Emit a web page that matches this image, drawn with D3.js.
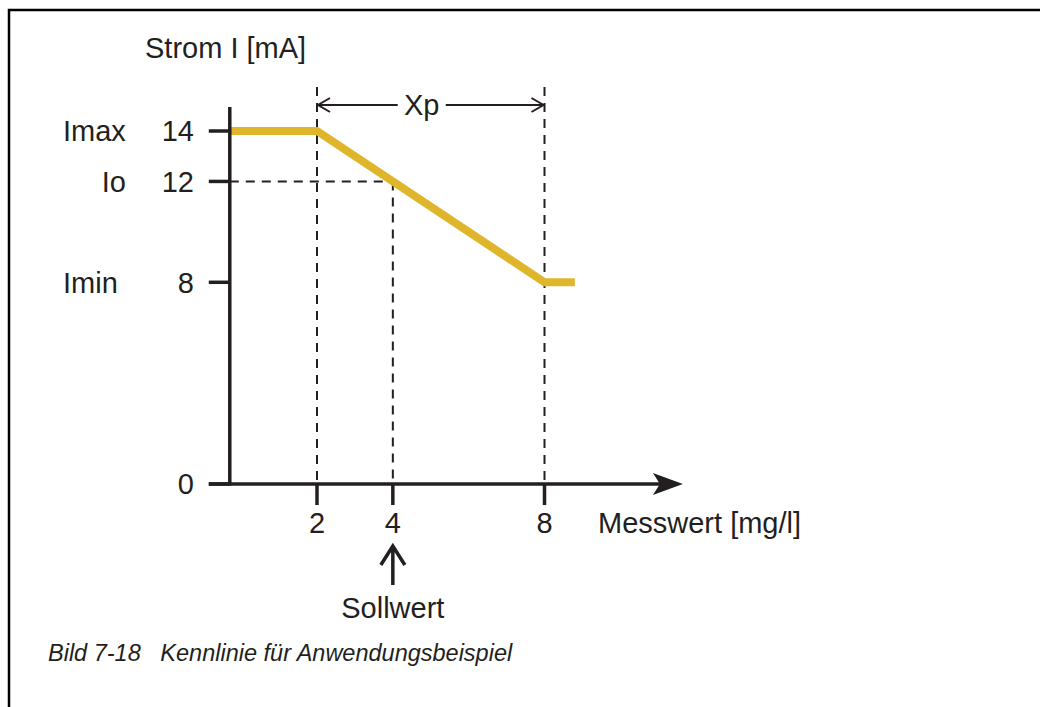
<!DOCTYPE html>
<html>
<head>
<meta charset="utf-8">
<script src="https://cdn.jsdelivr.net/npm/d3@7"></script>
<style>
  html, body { margin: 0; padding: 0; background: #fff; }
  svg { display: block; }
  text { font-family: "Liberation Sans", Arial, Helvetica, sans-serif; fill: #231f20; }
</style>
</head>
<body>
<svg id="chart" width="1040" height="707"></svg>
<script>
// Kennlinie: Strom über Messwert
const yTicks = [0, 8, 12, 14];
const yNames = { 14: "Imax", 12: "Io", 8: "Imin" };
const xTicks = [2, 4, 8];
const curveX = [-0.3, 2, 8, 8.8];
const curveY = [14, 14, 8, 8];
const setpointX = 4;
const setpointY = 12;
const xpRange = [2, 8];
const axisOriginX = -0.3;
const axisEndX = 11.65;

const ink = "#231f20";
const gold = "#dfb62b";
const fs = 29;

const svg = d3.select("#chart");

const x = d3.scaleLinear().domain([2, 8]).range([317, 544.5]);
const y = d3.scaleLinear().domain([0, 14]).range([484, 131]);

// outer frame
svg.append("rect")
  .attr("x", 9).attr("y", 10)
  .attr("width", 1060).attr("height", 720)
  .attr("fill", "none").attr("stroke", "#000").attr("stroke-width", 2.5);

// axis title
svg.append("text").attr("x", 145).attr("y", 58)
  .attr("font-size", fs).text("Strom I [mA]");

// dashed guide lines
const dash = "9,7";
const guides = svg.append("g").attr("stroke", ink).attr("stroke-width", 2)
  .attr("stroke-dasharray", dash).attr("fill", "none");
xpRange.forEach(v => {
  guides.append("line").attr("x1", x(v)).attr("x2", x(v))
    .attr("y1", 87).attr("y2", y(0));
});
guides.append("line").attr("x1", x(setpointX)).attr("x2", x(setpointX))
  .attr("y1", y(setpointY)).attr("y2", y(0));
guides.append("line").attr("x1", x(axisOriginX)).attr("x2", x(setpointX))
  .attr("y1", y(setpointY)).attr("y2", y(setpointY));

// characteristic curve
const pts = curveX.map((v, i) => [v, curveY[i]]);
svg.append("path")
  .datum(pts)
  .attr("d", d3.line().x(d => x(d[0])).y(d => y(d[1])))
  .attr("fill", "none").attr("stroke", gold).attr("stroke-width", 8)
  .attr("stroke-linejoin", "miter");

// y axis
const x0 = x(axisOriginX);
svg.append("line").attr("x1", x0).attr("x2", x0)
  .attr("y1", 107).attr("y2", y(0) + 1.5)
  .attr("stroke", ink).attr("stroke-width", 3.5);

const yt = svg.append("g");
yTicks.forEach(v => {
  yt.append("line").attr("x1", x0 - 21).attr("x2", x0)
    .attr("y1", y(v)).attr("y2", y(v))
    .attr("stroke", ink).attr("stroke-width", 3.5);
  yt.append("text").attr("x", 194).attr("y", y(v)).attr("dy", "0.36em")
    .attr("text-anchor", "end").attr("font-size", fs).text(v);
  if (yNames[v]) {
    const t = yt.append("text").attr("y", y(v)).attr("dy", "0.36em")
      .attr("font-size", fs).text(yNames[v]);
    if (v === 12) t.attr("x", 126).attr("text-anchor", "end");
    else t.attr("x", 63);
  }
});

// x axis with arrow
const xEnd = x(axisEndX);
svg.append("line").attr("x1", x0 - 21).attr("x2", xEnd - 20)
  .attr("y1", y(0)).attr("y2", y(0))
  .attr("stroke", ink).attr("stroke-width", 3.5);
svg.append("path")
  .attr("d", `M${xEnd},${y(0)} L${xEnd - 30},${y(0) - 11} L${xEnd - 23},${y(0)} L${xEnd - 30},${y(0) + 11} Z`)
  .attr("fill", ink);

const xt = svg.append("g");
xTicks.forEach(v => {
  xt.append("line").attr("x1", x(v)).attr("x2", x(v))
    .attr("y1", y(0)).attr("y2", y(0) + 21)
    .attr("stroke", ink).attr("stroke-width", 3.5);
  xt.append("text").attr("x", x(v)).attr("y", 533)
    .attr("text-anchor", "middle").attr("font-size", fs).text(v);
});
svg.append("text").attr("x", 598).attr("y", 533)
  .attr("font-size", fs).text("Messwert [mg/l]");

// setpoint marker
const sx = x(setpointX);
svg.append("path")
  .attr("d", `M${sx},585 L${sx},547 M${sx - 12},565 L${sx},546 L${sx + 12},565`)
  .attr("fill", "none").attr("stroke", ink).attr("stroke-width", 3.5);
svg.append("text").attr("x", sx).attr("y", 618)
  .attr("text-anchor", "middle").attr("font-size", fs).text("Sollwert");

// Xp span
const xa = x(xpRange[0]), xb = x(xpRange[1]), yXp = 105;
const xpMid = (xa + xb) / 2 - 9;
const xpG = svg.append("g").attr("stroke", ink).attr("stroke-width", 2).attr("fill", "none");
xpG.append("line").attr("x1", xa + 1).attr("x2", xpMid - 24).attr("y1", yXp).attr("y2", yXp);
xpG.append("line").attr("x1", xpMid + 24).attr("x2", xb - 1).attr("y1", yXp).attr("y2", yXp);
xpG.append("path").attr("d", `M${xa + 13},${yXp - 7} L${xa + 1},${yXp} L${xa + 13},${yXp + 7}`);
xpG.append("path").attr("d", `M${xb - 13},${yXp - 7} L${xb - 1},${yXp} L${xb - 13},${yXp + 7}`);
svg.append("text").attr("x", xpMid).attr("y", yXp).attr("dy", "0.36em")
  .attr("text-anchor", "middle").attr("font-size", fs).text("Xp");

// caption
svg.append("text").attr("x", 48).attr("y", 661)
  .attr("font-size", 23.5).attr("font-style", "italic").attr("fill", "#000")
  .text("Bild 7-18\u00a0\u00a0\u00a0Kennlinie für Anwendungsbeispiel");
</script>
</body>
</html>
